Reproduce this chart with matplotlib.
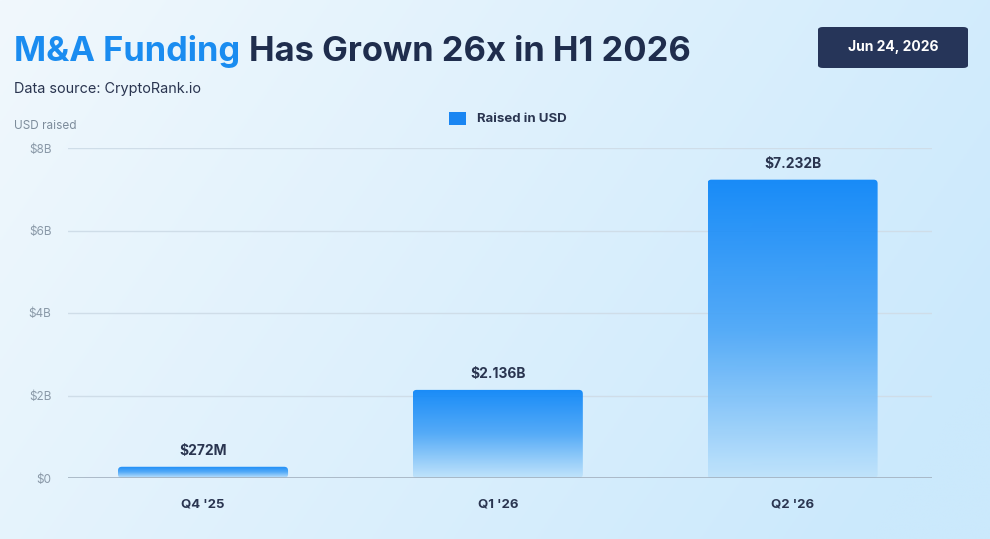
import numpy as np
import matplotlib.pyplot as plt
from matplotlib.colors import LinearSegmentedColormap, to_rgb
from matplotlib.patches import FancyBboxPatch

quarters = ["Q4 '25", "Q1 '26", "Q2 '26"]
raised_b = [0.272, 2.136, 7.232]
value_labels = ["$272M", "$2.136B", "$7.232B"]
yticks = [0, 2, 4, 6, 8]
ytick_labels = ["$0", "$2B", "$4B", "$6B", "$8B"]

W, H = 990, 539
plt.rcParams['font.family'] = ['Inter', 'DejaVu Sans']

fig = plt.figure(figsize=(W / 100, H / 100), dpi=100)

# background gradient
bg = fig.add_axes([0, 0, 1, 1], zorder=-10)
gx, gy = np.meshgrid(np.linspace(0, 1, 300), np.linspace(0, 1, 200))
t = np.clip(0.8 * gx + 0.3 * gy, 0, 1)
c0 = np.array(to_rgb('#f1f8fd'))
c1 = np.array(to_rgb('#cbe9fc'))
img = c0[None, None, :] * (1 - t[..., None]) + c1[None, None, :] * t[..., None]
bg.imshow(img, aspect='auto', extent=[0, 1, 0, 1], origin='upper')
bg.axis('off')


def fy(py):
    return 1 - py / H


ax = fig.add_axes([68 / W, fy(478), (932 - 68) / W, (478 - 148) / H])
ax.patch.set_alpha(0)
x = np.arange(len(quarters))

for yv in yticks[1:]:
    ax.axhline(yv, color='#cfdde8', lw=1, zorder=1)
ax.axhline(0, color='#a3b1bf', lw=1.2, zorder=4)

ax.set_yticks(yticks)
ax.set_yticklabels(ytick_labels, color='#8a99a8', fontsize=8.5)
ax.set_xticks(x)
ax.set_xticklabels(quarters, color='#2a3550', fontsize=9.5, fontweight='bold')
ax.tick_params(length=0)
ax.tick_params(axis='y', pad=12)
ax.tick_params(axis='x', pad=15)
for s in ax.spines.values():
    s.set_visible(False)

bar_cmap = LinearSegmentedColormap.from_list(
    'bar', [(0, '#bfe3fb'), (0.5, '#4ba6f7'), (1, '#0a84f8')])
grad = np.linspace(0, 1, 256)[:, None]
bw = 0.577
aspect = (8 / 330) / (1 / 295)
bars = ax.bar(x, raised_b, width=bw, color='none', edgecolor='none')
for b, lab in zip(bars, value_labels):
    x0, w, h = b.get_x(), b.get_width(), b.get_height()
    patch = FancyBboxPatch((x0, 0), w, h,
                           boxstyle='round,pad=0,rounding_size=0.013',
                           mutation_aspect=aspect, fc='none', ec='none')
    ax.add_patch(patch)
    im = ax.imshow(grad, cmap=bar_cmap, origin='lower', aspect='auto',
                   extent=[x0, x0 + w, 0, h], zorder=3, alpha=0.93)
    im.set_clip_path(patch)
    ax.text(x0 + w / 2, h + 0.22, lab, ha='center', va='bottom',
            fontsize=10, fontweight='bold', color='#2a3550')
ax.set_xlim(-0.458, 2.473)
ax.set_ylim(0, 8)

# title
t1 = fig.text(14 / W, fy(61), "M&A Funding", fontsize=24.8, fontweight='bold',
              color='#1a8cf0', va='baseline')
fig.canvas.draw()
bb = t1.get_window_extent()
fig.text((bb.x1 + 9) / W, fy(61), "Has Grown 26x in H1 2026", fontsize=24.8,
         fontweight='bold', color='#1f2d4d', va='baseline')
fig.text(14 / W, fy(89), "Data source: CryptoRank.io", fontsize=10.4,
         color='#2a3550', va='center')
fig.text(14 / W, fy(126), "USD raised", fontsize=8.5, color='#7d8c9b', va='center')

# legend
fig.patches.append(FancyBboxPatch((449 / W, fy(125)), 17 / W, 13 / H,
                                  boxstyle='square,pad=0', fc='#1a86f2', ec='none',
                                  transform=fig.transFigure, figure=fig))
fig.text(477 / W, fy(118.5), "Raised in USD", fontsize=9.5, fontweight='bold',
         color='#2a3550', va='center')

# date box
fig.patches.append(FancyBboxPatch((818 / W, fy(68)), 150 / W, 41 / H,
                                  boxstyle='round,pad=0,rounding_size=0.005',
                                  fc='#263559', ec='none',
                                  transform=fig.transFigure, figure=fig))
fig.text(893 / W, fy(47), "Jun 24, 2026", fontsize=10, fontweight='bold',
         color='white', ha='center', va='center')

fig.savefig('out.png', dpi=100)
